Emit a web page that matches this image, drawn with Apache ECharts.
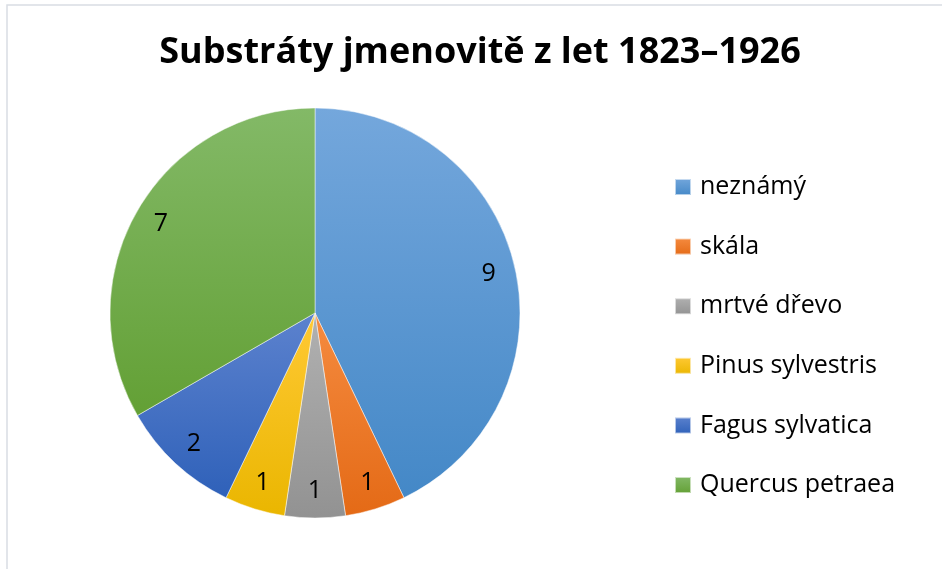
<!DOCTYPE html>
<html>
<head>
<meta charset="utf-8">
<script src="https://cdn.jsdelivr.net/npm/echarts@6/dist/echarts.min.js"></script>
<style>html,body{margin:0;padding:0;background:#fff}#c{width:942px;height:569px}</style>
</head>
<body>
<div id="c"></div>
<script>
var titleText = 'Substráty jmenovitě z let 1823–1926';
var categories = ['neznámý', 'skála', 'mrtvé dřevo', 'Pinus sylvestris', 'Fagus sylvatica', 'Quercus petraea'];
var values = [9, 1, 1, 1, 2, 7];
var colorTop = ['#74A7DC', '#F58B40', '#B1B1B1', '#FFC935', '#5C82CE', '#83B967'];
var colorBottom = ['#4488C7', '#E46A16', '#929292', '#EAB600', '#2F61B9', '#63A035'];

function grad(i) {
  return new echarts.graphic.LinearGradient(0, 0, 0, 1, [
    {offset: 0, color: colorTop[i]},
    {offset: 1, color: colorBottom[i]}
  ]);
}

var pieData = categories.map(function (n, i) {
  return {name: n, value: values[i], itemStyle: {color: grad(i)}};
});
var labelData = categories.map(function (n, i) {
  return {name: n, value: values[i]};
});

var chart = echarts.init(document.getElementById('c'), null, {renderer: 'canvas'});
chart.setOption({
  animation: false,
  backgroundColor: '#ffffff',
  title: {
    text: titleText,
    left: 480, top: 35, textAlign: 'center', padding: 0,
    textStyle: {fontFamily: 'Open Sans', fontWeight: 'bold', fontSize: 36, color: '#000'}
  },
  graphic: [{
    type: 'rect', silent: true,
    shape: {x: 7, y: 5, width: 1000, height: 1000},
    style: {fill: 'none', stroke: '#D9DDE4', lineWidth: 1.5}
  }],
  legend: {
    orient: 'vertical', left: 674, top: 174, padding: 0,
    itemWidth: 16, itemHeight: 16, itemGap: 33.6,
    icon: 'rect',
    data: categories,
    textStyle: {fontFamily: 'Open Sans', fontSize: 25, lineHeight: 26, color: '#000', padding: [0, 0, 0, 4]}
  },
  series: [{
    type: 'pie',
    center: [315, 313], radius: [0, 205],
    startAngle: 90, clockwise: true,
    silent: true,
    itemStyle: {borderColor: 'rgba(255,255,255,0.6)', borderWidth: 0.8},
    label: {show: false}, labelLine: {show: false},
    data: pieData
  }, {
    type: 'pie',
    center: [315, 313], radius: [145, 205],
    startAngle: 90, clockwise: true,
    silent: true,
    legendHoverLink: false,
    itemStyle: {color: 'rgba(0,0,0,0)'},
    label: {show: true, position: 'inside', formatter: '{c}', fontFamily: 'Open Sans', fontSize: 25, color: '#000'},
    labelLine: {show: false},
    data: labelData
  }]
});
</script>
</body>
</html>
